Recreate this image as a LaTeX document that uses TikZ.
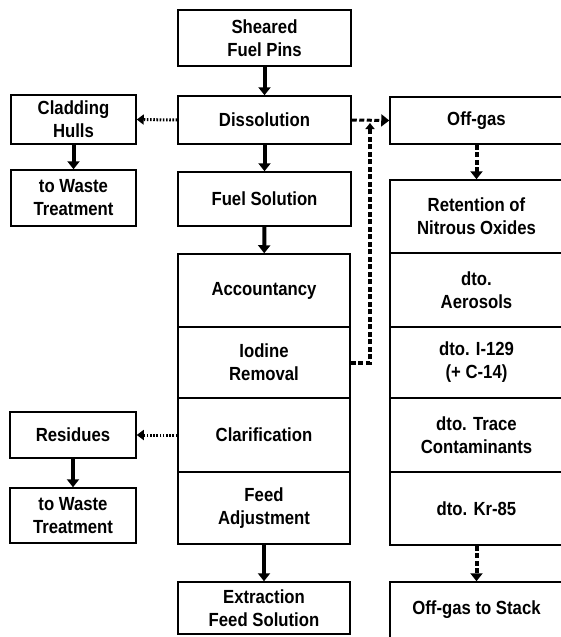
\documentclass[tikz,border=0pt]{standalone}
\usepackage{fontspec}
\setmainfont{Liberation Sans}[FakeStretch=0.88]
\usetikzlibrary{arrows.meta}
\begin{document}
\begin{tikzpicture}[x=1pt,y=-1pt,
  box/.style={draw,line width=1.5pt,inner sep=0pt,align=center,
    font=\fontsize{19}{23}\selectfont\bfseries},
  flow/.style={line width=4pt,-{Triangle[width=12pt,length=8pt]}},
  side/.style={line width=3pt,dash pattern=on 1.6pt off 1.6pt,-{Triangle[width=10pt,length=7pt]}},
  gas/.style={line width=4pt,dash pattern=on 5pt off 2.5pt,-{Triangle[width=12pt,length=8pt]}}]
\useasboundingbox (0,0) rectangle (561,637);
% main column
\node[box,minimum width=173pt,minimum height=56pt] (sheared) at (264.5,38) {Sheared\\Fuel Pins};
\node[box,minimum width=173pt,minimum height=48pt] (diss) at (264.5,120) {Dissolution};
\node[box,minimum width=173pt,minimum height=54pt] (fuel) at (264.5,199) {Fuel Solution};
\node[box,minimum width=172pt,minimum height=73pt] (acc) at (264,290.5) {Accountancy};
\node[box,minimum width=172pt,minimum height=71pt] (iod) at (264,362.5) {Iodine\\Removal};
\node[box,minimum width=172pt,minimum height=74pt] (clar) at (264,435) {Clarification};
\node[box,minimum width=172pt,minimum height=72pt] (feed) at (264,508) {Feed\\Adjustment};
\node[box,minimum width=172pt,minimum height=52pt] (extr) at (264,608) {Extraction\\Feed Solution};
% left column
\node[box,minimum width=125pt,minimum height=49pt] (clad) at (73.5,119.5) {Cladding\\Hulls};
\node[box,minimum width=125pt,minimum height=56pt] (waste1) at (73.5,198) {to Waste\\Treatment};
\node[box,minimum width=126pt,minimum height=46pt] (resid) at (73,435) {Residues};
\node[box,minimum width=126pt,minimum height=55pt] (waste2) at (73,515.5) {to Waste\\Treatment};
% right column (cut at the right edge)
\node[box,minimum width=173pt,minimum height=47pt] (offgas) at (476.5,120.5) {Off-gas};
\node[box,minimum width=173pt,minimum height=73pt] (ret) at (476.5,216.5) {Retention of\\Nitrous Oxides};
\node[box,minimum width=173pt,minimum height=74pt] (aer) at (476.5,290) {dto.\\Aerosols};
\node[box,minimum width=173pt,minimum height=71pt] (i129) at (476.5,362.5) {dto. I-129\\(+ C-14)};
\node[box,minimum width=173pt,minimum height=74pt] (trace) at (476.5,435) {dto. Trace\\Contaminants};
\node[box,minimum width=173pt,minimum height=73pt] (kr) at (476.5,508.5) {dto. Kr-85};
\node[box,minimum width=173pt,minimum height=56pt] (stack) at (476.5,610) {Off-gas to Stack};
% connectors
\draw[flow] (sheared) -- (diss);
\draw[flow] (diss) -- (fuel);
\draw[flow] (fuel) -- (acc);
\draw[flow] (feed) -- (extr);
\draw[flow] (clad) -- (waste1);
\draw[flow] (resid) -- (waste2);
\draw[side] (diss.west) -- (clad.east);
\draw[side] (clar.west) -- (resid.east);
\draw[gas,line width=3pt] (diss.east) -- (offgas.west);
\coordinate (j) at (370,123);
\draw[gas,-{Triangle[width=9pt,length=6pt]}] (iod.east) -| (j);
\draw[gas] (offgas) -- (ret);
\draw[gas] (kr) -- (stack);
\end{tikzpicture}
\end{document}
